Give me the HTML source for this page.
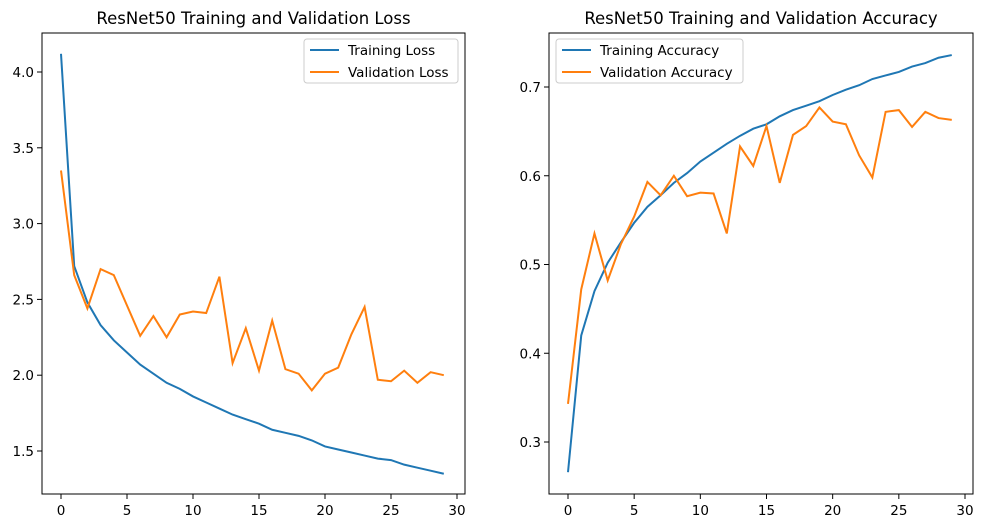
<!DOCTYPE html>
<html><head><meta charset="utf-8"><style>
body{margin:0;background:#fff;}
svg{display:block;font-family:"DejaVu Sans","Liberation Sans",sans-serif;}
</style></head><body>
<svg id="fig" width="984" height="528"></svg>
<script>
const epochs=[0,1,2,3,4,5,6,7,8,9,10,11,12,13,14,15,16,17,18,19,20,21,22,23,24,25,26,27,28,29];
const trainLoss=[4.12,2.72,2.48,2.33,2.23,2.15,2.07,2.01,1.95,1.91,1.86,1.82,1.78,1.74,1.71,1.68,1.64,1.62,1.60,1.57,1.53,1.51,1.49,1.47,1.45,1.44,1.41,1.39,1.37,1.35];
const valLoss=[3.35,2.66,2.44,2.70,2.66,2.46,2.26,2.39,2.25,2.40,2.42,2.41,2.65,2.08,2.31,2.03,2.36,2.04,2.01,1.90,2.01,2.05,2.27,2.45,1.97,1.96,2.03,1.95,2.02,2.00];
const trainAcc=[0.266,0.42,0.47,0.502,0.525,0.547,0.565,0.578,0.592,0.603,0.616,0.626,0.636,0.645,0.653,0.658,0.667,0.674,0.679,0.684,0.691,0.697,0.702,0.709,0.713,0.717,0.723,0.727,0.733,0.736];
const valAcc=[0.343,0.472,0.535,0.482,0.523,0.554,0.593,0.578,0.600,0.577,0.581,0.580,0.535,0.633,0.611,0.656,0.592,0.646,0.656,0.677,0.661,0.658,0.623,0.598,0.672,0.674,0.655,0.672,0.665,0.663];
const xTicks=[0,5,10,15,20,25,30];
const lossTicks=[1.5,2.0,2.5,3.0,3.5,4.0];
const accTicks=[0.3,0.4,0.5,0.6,0.7];

const NS="http://www.w3.org/2000/svg";
const svg=document.getElementById('fig');
function mk(tag,attrs,parent){const e=document.createElementNS(NS,tag);for(const k in attrs)e.setAttribute(k,attrs[k]);(parent||svg).appendChild(e);return e;}

function panel(opt){
  const g=mk('g',{});
  
  
  const X=v=>opt.x0+(v-0)*(opt.x30-opt.x0)/30;
  const Y=v=>opt.yA+(v-opt.vA)*(opt.yB-opt.yA)/(opt.vB-opt.vA);
  const L=opt.box[0],T=opt.box[1],R=opt.box[2],B=opt.box[3];
  xTicks.forEach(t=>{
    const x=X(t);
    const tk=mk('line',{x1:x,x2:x,y1:B,y2:B+5,stroke:'#000','stroke-width':1},g);
    
    const tx=mk('text',{x:x,y:B+21,'text-anchor':'middle','font-size':13.5,fill:'#000'},g);
    tx.textContent=t;
  });
  opt.yticks.forEach(t=>{
    const y=Y(t);
    const tk=mk('line',{x1:L-5,x2:L,y1:y,y2:y,stroke:'#000','stroke-width':1},g);
    
    const tx=mk('text',{x:L-8,y:y+5,'text-anchor':'end','font-size':13.5,fill:'#000'},g);
    tx.textContent=t.toFixed(1);
  });
  opt.series.forEach(s=>{
    const p=mk('polyline',{points:s.d.map((v,i)=>X(epochs[i])+','+Y(v)).join(' '),fill:'none',stroke:s.c,'stroke-width':2},g);
    
  });
  const fr=mk('rect',{x:L,y:T,width:R-L,height:B-T,fill:'none',stroke:'#000','stroke-width':1},g);
  
  const ti=mk('text',{x:(L+R)/2,y:T-9,'text-anchor':'middle','font-size':16.5,fill:'#000'},g);
  ti.textContent=opt.title;
  const lg=mk('g',{},g);
  
  mk('rect',{x:opt.leg[0],y:opt.leg[1],width:opt.leg[2],height:44,rx:3,fill:'#fff',stroke:'#ccc','stroke-width':1},lg);
  opt.series.forEach((s,i)=>{
    const ly=opt.leg[1]+11+i*22;
    const e=mk('g',{},lg);
    
    mk('line',{x1:opt.leg[0]+6,x2:opt.leg[0]+35,y1:ly,y2:ly,stroke:s.c,'stroke-width':2},e);
    const t=mk('text',{x:opt.leg[0]+44,y:ly+5,'font-size':13.5,fill:'#000'},e);t.textContent=s.label;
  });
}
panel({name:'loss-chart',box:[42,33,465,494],x0:61,x30:457,vA:4.0,yA:72,vB:1.5,yB:451,yticks:lossTicks,
  title:'ResNet50 Training and Validation Loss',leg:[304,39,154],
  series:[{d:trainLoss,c:'#1f77b4',n:'training-loss-line',label:'Training Loss'},{d:valLoss,c:'#ff7f0e',n:'validation-loss-line',label:'Validation Loss'}]});
panel({name:'accuracy-chart',box:[549,33,973,494],x0:568,x30:965,vA:0.7,yA:87,vB:0.3,yB:442,yticks:accTicks,
  title:'ResNet50 Training and Validation Accuracy',leg:[556,39,187],
  series:[{d:trainAcc,c:'#1f77b4',n:'training-accuracy-line',label:'Training Accuracy'},{d:valAcc,c:'#ff7f0e',n:'validation-accuracy-line',label:'Validation Accuracy'}]});
</script>
</body></html>
